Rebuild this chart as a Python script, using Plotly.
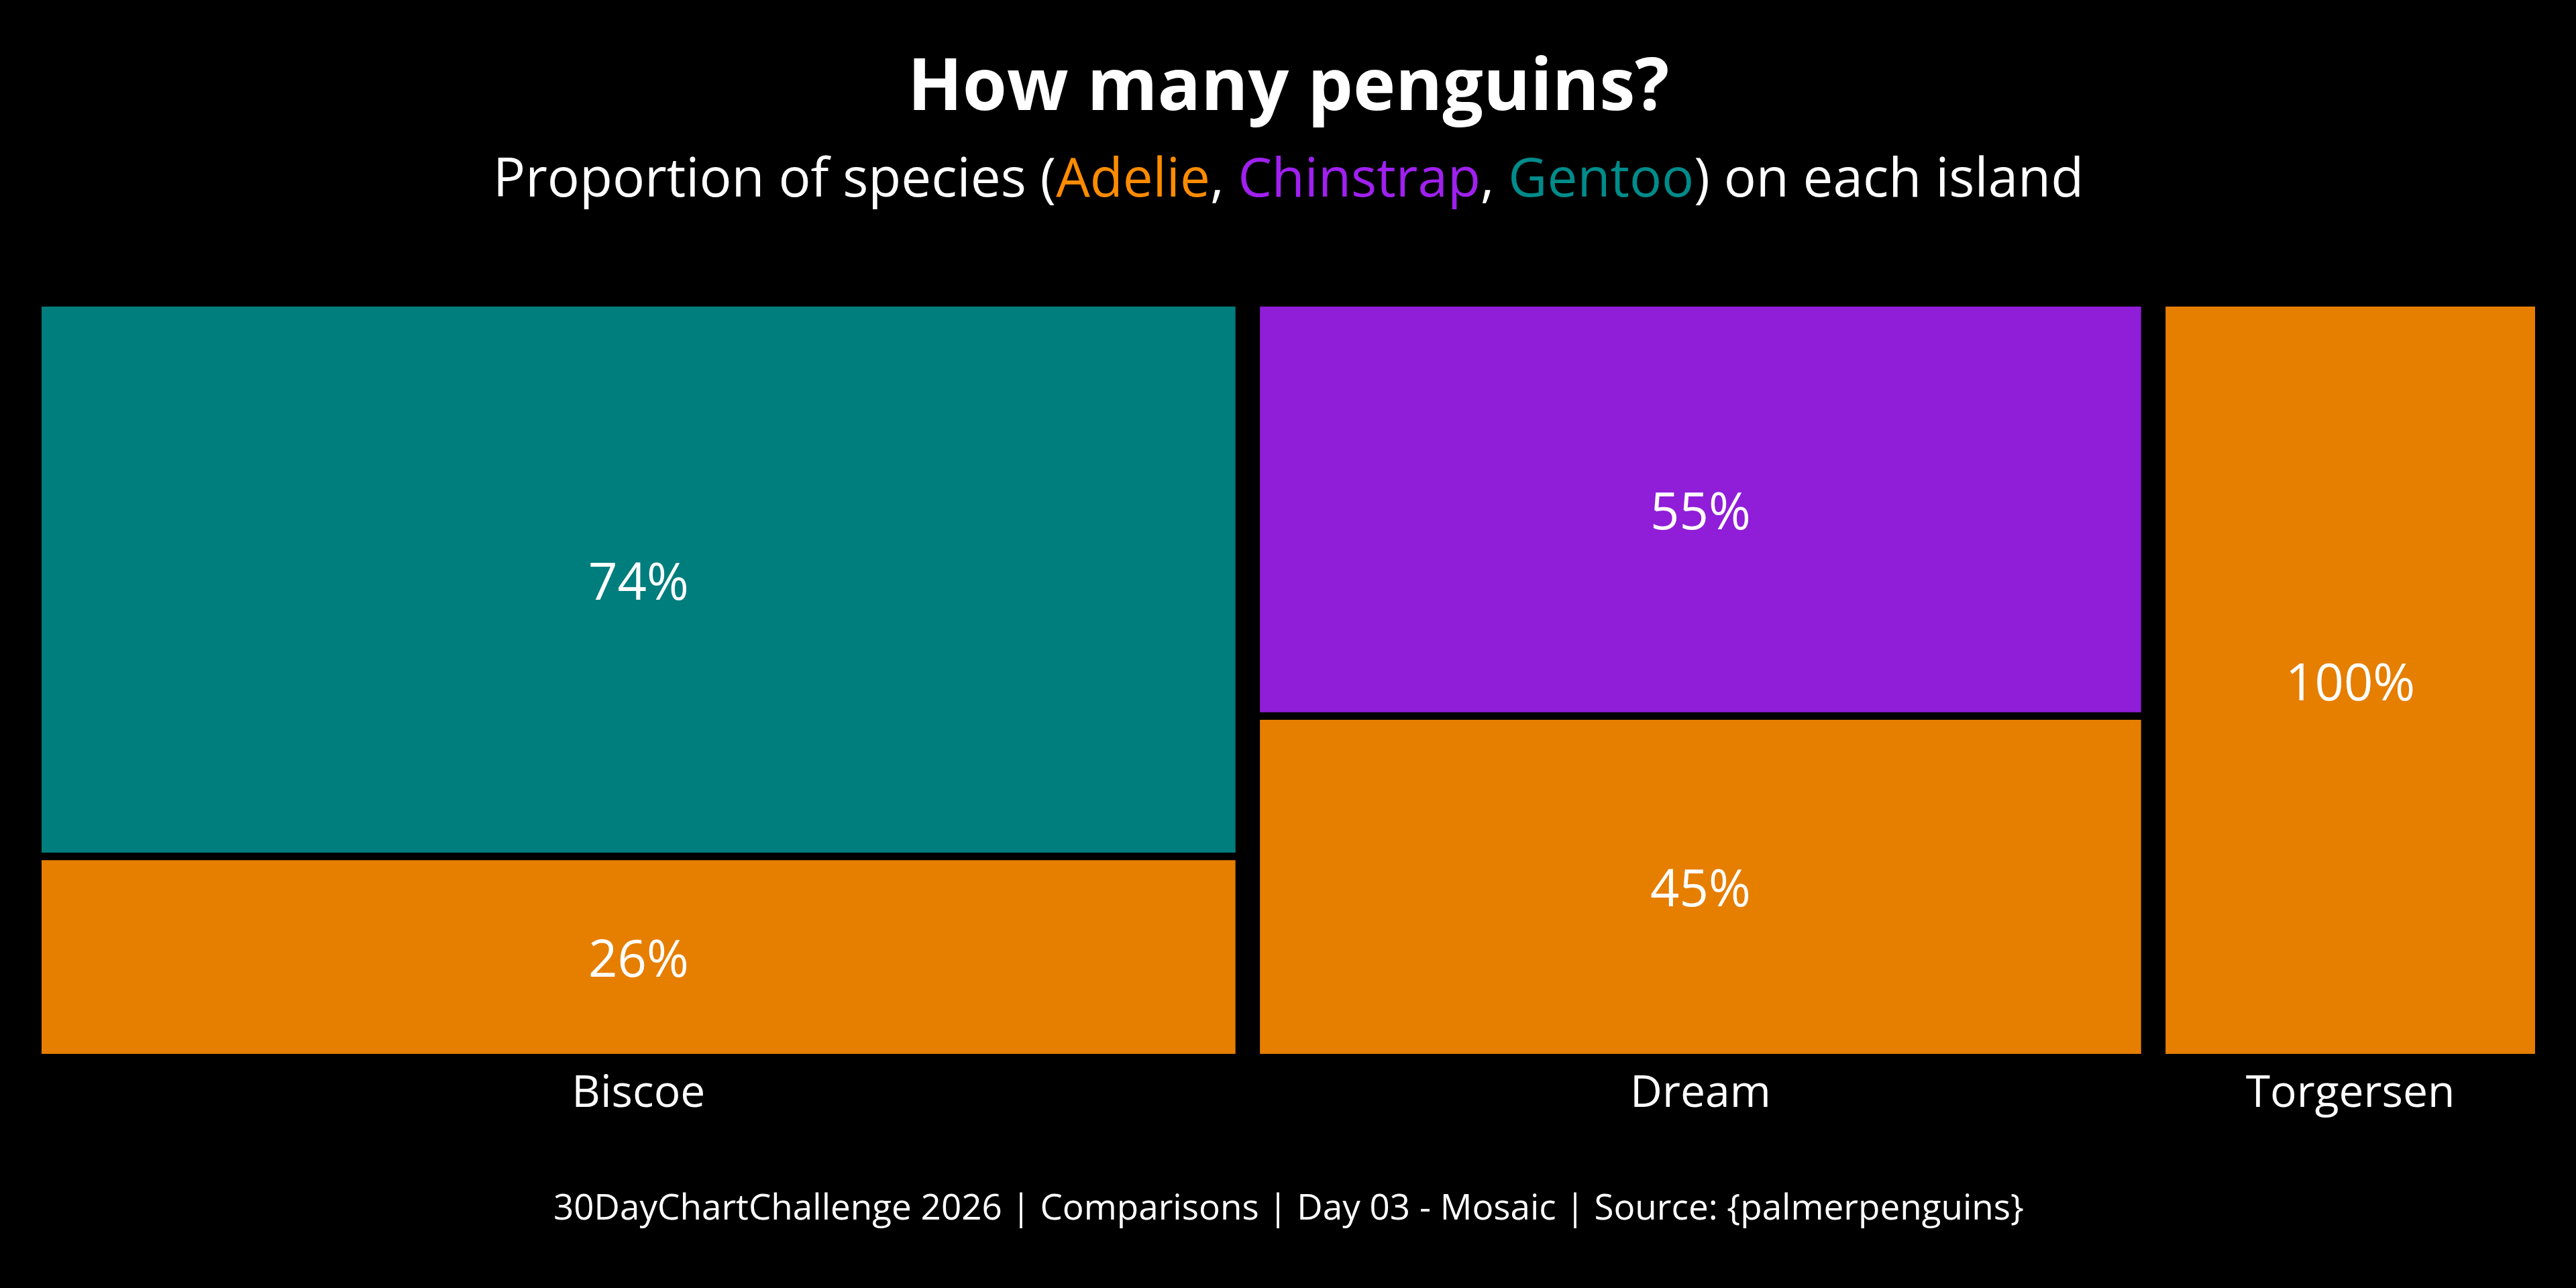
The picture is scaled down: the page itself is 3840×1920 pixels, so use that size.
import plotly.graph_objects as go

# palmerpenguins counts per island / species
islands = ["Biscoe", "Dream", "Torgersen"]
species = ["Adelie", "Chinstrap", "Gentoo"]
counts = {
    "Adelie": [44, 56, 52],
    "Chinstrap": [0, 68, 0],
    "Gentoo": [124, 0, 0],
}
fill_colors = {
    "Adelie": "rgba(255,140,0,0.9)",
    "Chinstrap": "rgba(160,32,240,0.9)",
    "Gentoo": "rgba(0,139,139,0.9)",
}
text_colors = {"Adelie": "#FF8C00", "Chinstrap": "#A020F0", "Gentoo": "#008B8B"}

W, H = 3840, 1920
FONT = "Open Sans"
offset = 0.01  # gap between tiles, like ggmosaic

# island widths (share of all penguins), with gaps between columns
totals = [sum(counts[s][i] for s in species) for i in range(len(islands))]
grand = sum(totals)
widths = [t / grand for t in totals]
centers = []
left = 0
for w in widths:
    centers.append(left + w / 2)
    left += w + offset
x_max = left - offset

fig = go.Figure()

# stack species bottom-up within each island
bases = [0.0] * len(islands)
n_species = [sum(1 for s in species if counts[s][i] > 0) for i in range(len(islands))]
for s in species:
    xs, ys, bs, ws, labels = [], [], [], [], []
    for i in range(len(islands)):
        c = counts[s][i]
        if c == 0:
            continue
        share = c / totals[i]
        h = share * (1 - offset * (n_species[i] - 1))
        xs.append(centers[i])
        ys.append(h)
        bs.append(bases[i])
        ws.append(widths[i])
        labels.append(f"{round(share * 100)}%")
        bases[i] += h + offset
    fig.add_trace(go.Bar(
        x=xs, y=ys, base=bs, width=ws,
        marker=dict(color=fill_colors[s], line=dict(width=0)),
        text=labels, textposition="inside", insidetextanchor="middle",
        textfont=dict(family=FONT, size=76, color="white"),
        hoverinfo="skip", showlegend=False,
    ))

sub = ("Proportion of species ("
       + ", ".join(f"<span style='color:{text_colors[s]}'>{s}</span>" for s in species)
       + ") on each island")

top, bottom = 457, 1571
ph = bottom - top


def py(pixel):
    # pixel row (from top) -> paper y
    return (bottom - pixel) / ph


fig.update_layout(
    width=W, height=H,
    paper_bgcolor="black", plot_bgcolor="black",
    margin=dict(l=62, r=61, t=top, b=H - bottom),
    barmode="overlay",
    uniformtext=dict(minsize=76, mode="show"),
    xaxis=dict(
        range=[0, x_max], showgrid=False, zeroline=False, showline=False,
        tickvals=centers, ticktext=islands, ticks="", ticklabelstandoff=12,
        tickfont=dict(family=FONT, size=66, color="white"),
    ),
    yaxis=dict(range=[0, 1], showgrid=False, zeroline=False, showline=False,
               showticklabels=False),
    annotations=[
        dict(text="<b>How many penguins?</b>", x=0.5, y=py(123), xref="paper", yref="paper",
             showarrow=False, yanchor="middle",
             font=dict(family=FONT, size=107, color="white")),
        dict(text=sub, x=0.5, y=py(261), xref="paper", yref="paper",
             showarrow=False, yanchor="middle",
             font=dict(family=FONT, size=80, color="white")),
        dict(text="30DayChartChallenge 2026 | Comparisons | Day 03 - Mosaic | Source: {palmerpenguins}",
             x=0.5, y=py(1797), xref="paper", yref="paper",
             showarrow=False, yanchor="middle",
             font=dict(family=FONT, size=53, color="white")),
    ],
)

# no white page margin around the figure, no modebar
fig.write_html("out.html", config={"displayModeBar": False},
               post_script="document.body.style.margin='0';document.body.style.background='black';")
